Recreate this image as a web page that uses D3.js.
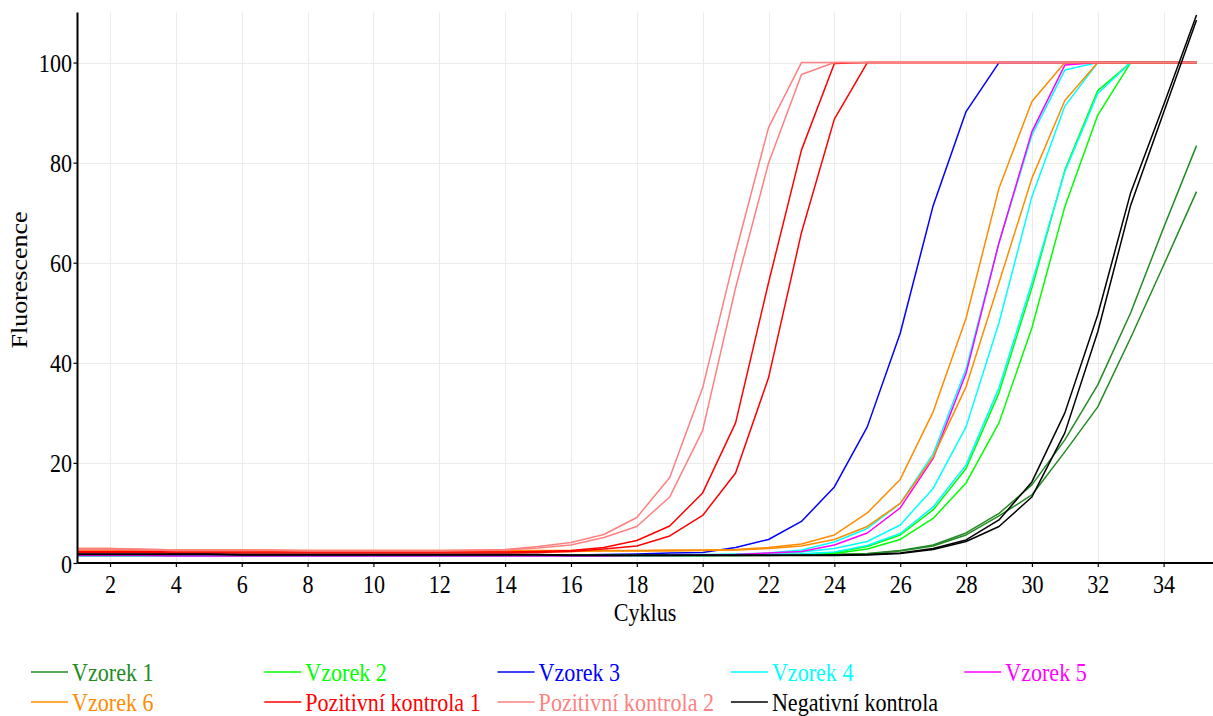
<!DOCTYPE html>
<html>
<head>
<meta charset="utf-8">
<script src="https://cdn.jsdelivr.net/npm/d3@7"></script>
<style>
html,body{margin:0;padding:0;background:#fff;}
svg{display:block;}
text{font-family:"Liberation Serif","Times New Roman",serif;}
</style>
</head>
<body>
<svg id="chart" width="1213" height="716"></svg>
<script>
const cycles = [1,2,3,4,5,6,7,8,9,10,11,12,13,14,15,16,17,18,19,20,21,22,23,24,25,26,27,28,29,30,31,32,33,34,35];
const xTicks = [2,4,6,8,10,12,14,16,18,20,22,24,26,28,30,32,34];
const yTicks = [0,20,40,60,80,100];

const seriesNames = ["Vzorek 1","Vzorek 2","Vzorek 3","Vzorek 4","Vzorek 5","Vzorek 6","Pozitivní kontrola 1","Pozitivní kontrola 2","Negativní kontrola"];
const seriesColors = ["#228B22","#00FF00","#0000FF","#00FFFF","#FF00FF","#FF8C00","#FF0000","#FF8080","#000000"];

const vzorek1 = [
 [1.6,1.6,1.6,1.5,1.5, 1.5,1.5,1.5,1.5,1.5, 1.5,1.5,1.5,1.5,1.5, 1.5,1.5,1.5,1.5,1.5, 1.5,1.6,1.6,1.7,1.9, 2.5,3.6,6.0,9.9,15.6, 24.6,35.6,50.0,67.0,83.4],
 [1.5,1.5,1.5,1.5,1.5, 1.5,1.5,1.5,1.5,1.5, 1.5,1.5,1.5,1.5,1.5, 1.5,1.5,1.5,1.5,1.5, 1.5,1.5,1.6,1.7,1.8, 2.4,3.4,5.6,9.4,13.6, 22.2,31.2,45.0,59.5,74.2]
];
const vzorek2 = [
 [1.5,1.5,1.5,1.5,1.5, 1.5,1.5,1.5,1.5,1.5, 1.5,1.5,1.5,1.5,1.5, 1.5,1.5,1.5,1.5,1.6, 1.6,1.7,1.8,2.1,3.3, 5.6,10.6,18.9,34.0,55.0, 78.5,94.4,100,100,100],
 [1.5,1.5,1.5,1.5,1.5, 1.5,1.5,1.5,1.5,1.5, 1.5,1.5,1.5,1.5,1.5, 1.5,1.5,1.5,1.5,1.5, 1.6,1.6,1.7,1.9,2.8, 4.7,8.9,16.0,28.0,47.0, 71.2,89.5,100,100,100]
];
const vzorek3 = [
 [1.7,1.7,1.7,1.6,1.6, 1.6,1.6,1.6,1.6,1.6, 1.6,1.6,1.6,1.6,1.6, 1.6,1.7,1.8,2.0,2.1, 3.1,4.7,8.3,15.2,27.2, 45.9,71.4,90.2,100,100, 100,100,100,100,100]
];
const vzorek4 = [
 [1.5,1.5,1.5,1.5,1.5, 1.5,1.5,1.5,1.5,1.5, 1.5,1.5,1.5,1.5,1.5, 1.5,1.5,1.6,1.6,1.7, 1.8,2.0,2.6,4.2,6.9, 11.9,21.8,38.8,64.0,85.5, 98.5,100,100,100,100],
 [1.5,1.5,1.5,1.5,1.5, 1.5,1.5,1.5,1.5,1.5, 1.5,1.5,1.5,1.5,1.5, 1.5,1.5,1.5,1.6,1.6, 1.7,1.9,2.2,2.9,4.3, 7.6,14.9,27.2,48.0,73.2, 91.3,100,100,100,100],
 [1.5,1.5,1.5,1.5,1.5, 1.5,1.5,1.5,1.5,1.5, 1.5,1.5,1.5,1.5,1.5, 1.5,1.5,1.5,1.5,1.5, 1.6,1.7,1.8,2.2,3.5, 5.9,11.2,19.6,35.0,56.0, 78.2,93.8,100,100,100]
];
const vzorek5 = [
 [1.5,1.5,1.5,1.4,1.4, 1.4,1.4,1.4,1.4,1.4, 1.4,1.4,1.4,1.4,1.4, 1.4,1.4,1.5,1.5,1.6, 1.7,2.0,2.3,3.6,6.0, 11.0,20.9,37.9,64.0,86.2, 99.5,100,100,100,100]
];
const vzorek6 = [
 [2.9,2.9,2.6,2.6,2.6, 2.6,2.5,2.5,2.5,2.5, 2.5,2.5,2.5,2.5,2.5, 2.5,2.5,2.5,2.6,2.6, 2.7,3.1,3.8,5.6,10.0, 16.7,30.2,48.9,74.9,92.2, 100,100,100,100,100],
 [2.6,2.6,2.4,2.4,2.4, 2.4,2.3,2.3,2.3,2.3, 2.3,2.3,2.3,2.3,2.3, 2.3,2.4,2.4,2.4,2.5, 2.6,2.9,3.4,4.7,7.3, 11.9,21.2,35.2,56.0,76.9, 92.4,100,100,100,100]
];
const pozitivni1 = [
 [2.3,2.3,2.3,2.2,2.2, 2.2,2.2,2.2,2.2,2.2, 2.2,2.2,2.2,2.2,2.3, 2.5,3.1,4.5,7.4,14.0, 28.0,56.0,82.5,99.8,100, 100,100,100,100,100, 100,100,100,100,100],
 [2.1,2.1,2.1,2.0,2.0, 2.0,2.0,2.0,2.0,2.0, 2.0,2.0,2.0,2.0,2.1, 2.3,2.8,3.4,5.4,9.5, 18.0,37.0,66.0,88.7,100, 100,100,100,100,100, 100,100,100,100,100]
];
const pozitivni2 = [
 [2.9,2.9,2.8,2.6,2.6, 2.6,2.6,2.5,2.5,2.5, 2.5,2.5,2.6,2.7,3.3, 4.1,5.7,9.1,17.1,35.0, 62.0,87.0,100,100,100, 100,100,100,100,100, 100,100,100,100,100],
 [2.7,2.7,2.6,2.5,2.5, 2.5,2.5,2.4,2.4,2.4, 2.4,2.4,2.5,2.6,3.0, 3.6,5.1,7.3,13.2,26.5, 55.0,79.9,97.6,100,100, 100,100,100,100,100, 100,100,100,100,100]
];
const negativni = [
 [1.8,1.8,1.8,1.8,1.8, 1.7,1.7,1.7,1.7,1.7, 1.7,1.7,1.7,1.7,1.7, 1.6,1.6,1.6,1.6,1.6, 1.6,1.6,1.6,1.6,1.7, 2.0,2.9,4.6,8.6,16.2, 30.0,49.6,74.0,91.5,109.5],
 [1.7,1.7,1.7,1.7,1.7, 1.6,1.6,1.6,1.6,1.6, 1.6,1.6,1.6,1.6,1.6, 1.5,1.5,1.5,1.5,1.5, 1.5,1.5,1.5,1.5,1.6, 1.9,2.7,4.3,7.3,13.2, 26.0,46.2,71.5,90.0,108.5]
];
const seriesData = [vzorek1,vzorek2,vzorek3,vzorek4,vzorek5,vzorek6,pozitivni1,pozitivni2,negativni];

const xTitle = "Cyklus";
const yTitle = "Fluorescence";

// ---------- drawing ----------
(function () {
const svg = d3.select("#chart");
const FS = 26, SX = 0.85;
const pLeft = 77.5, pRight = 1213, pTop = 12.5, pBottom = 563;

const x = d3.scaleLinear().domain([1, 35.5]).range([77.1, pRight]);
const y = d3.scaleLinear().domain([0, 110]).range([pBottom, pTop]);

// grid
const grid = svg.append("g").attr("stroke", "#ebebeb").attr("stroke-width", 1);
grid.selectAll("line.v").data(xTicks).join("line").attr("class","v")
  .attr("x1", d => Math.round(x(d)) + 0.5).attr("x2", d => Math.round(x(d)) + 0.5)
  .attr("y1", pTop).attr("y2", pBottom);
grid.selectAll("line.h").data(yTicks.filter(d => d > 0)).join("line").attr("class","h")
  .attr("x1", pLeft).attr("x2", pRight)
  .attr("y1", d => Math.round(y(d)) + 0.5).attr("y2", d => Math.round(y(d)) + 0.5);

// lines
const line = d3.line().x((d, i) => x(cycles[i])).y(d => y(d));
const plot = svg.append("g");
seriesData.forEach((reps, si) => {
  reps.forEach(vals => {
    plot.append("path").datum(vals)
      .attr("fill", "none")
      .attr("stroke", seriesColors[si])
      .attr("stroke-width", 1.5)
      .attr("stroke-linejoin", "round")
      .attr("d", line);
  });
});

// axes
const xAxis = svg.append("g").attr("transform", `translate(0,${pBottom})`)
  .call(d3.axisBottom(x).tickValues(xTicks).tickSize(4).tickSizeOuter(0).tickFormat(d3.format("d")));
xAxis.select(".domain").attr("stroke", "#000").attr("stroke-width", 2).attr("d", `M${pLeft},0H${pRight}`);
xAxis.selectAll(".tick line").attr("stroke", "#000").attr("stroke-width", 1.2);
xAxis.selectAll(".tick text")
  .attr("y", 30).attr("dy", 0)
  .attr("font-size", FS).attr("fill", "#000")
  .attr("font-family", "Liberation Serif")
  .attr("transform", `scale(${SX},1)`);

const yAxis = svg.append("g").attr("transform", `translate(${pLeft},0)`)
  .call(d3.axisLeft(y).tickValues(yTicks).tickSize(4).tickSizeOuter(0).tickFormat(d3.format("d")));
yAxis.select(".domain").attr("stroke", "#000").attr("stroke-width", 2).attr("d", `M0,${pTop}V${pBottom}`);
yAxis.selectAll(".tick line").attr("stroke", "#000").attr("stroke-width", 1.2);
yAxis.selectAll(".tick text")
  .attr("x", -6.5).attr("y", 9).attr("dy", 0)
  .attr("font-size", FS).attr("fill", "#000")
  .attr("font-family", "Liberation Serif")
  .attr("transform", `scale(${SX},1)`);

// axis titles
svg.append("text").text(xTitle)
  .attr("transform", `translate(645,621) scale(${SX},1)`)
  .attr("text-anchor", "middle").attr("font-size", FS).attr("fill", "#000");
svg.append("text").text(yTitle)
  .attr("transform", `translate(27,280) scale(${SX},1) rotate(-90)`)
  .attr("text-anchor", "middle").attr("font-size", FS).attr("fill", "#000");

// legend
const legend = svg.append("g");
seriesNames.forEach((name, i) => {
  const col = i % 5, row = Math.floor(i / 5);
  const x0 = 31 + col * 233.3;
  const ly = 672 + row * 30;
  legend.append("line")
    .attr("x1", x0).attr("x2", x0 + 37)
    .attr("y1", ly).attr("y2", ly)
    .attr("stroke", seriesColors[i]).attr("stroke-width", 1.5);
  legend.append("text").text(name)
    .attr("transform", `translate(${x0 + 41},${ly + 9}) scale(${SX},1)`)
    .attr("font-size", FS).attr("fill", seriesColors[i]);
});
})();
</script>
</body>
</html>
